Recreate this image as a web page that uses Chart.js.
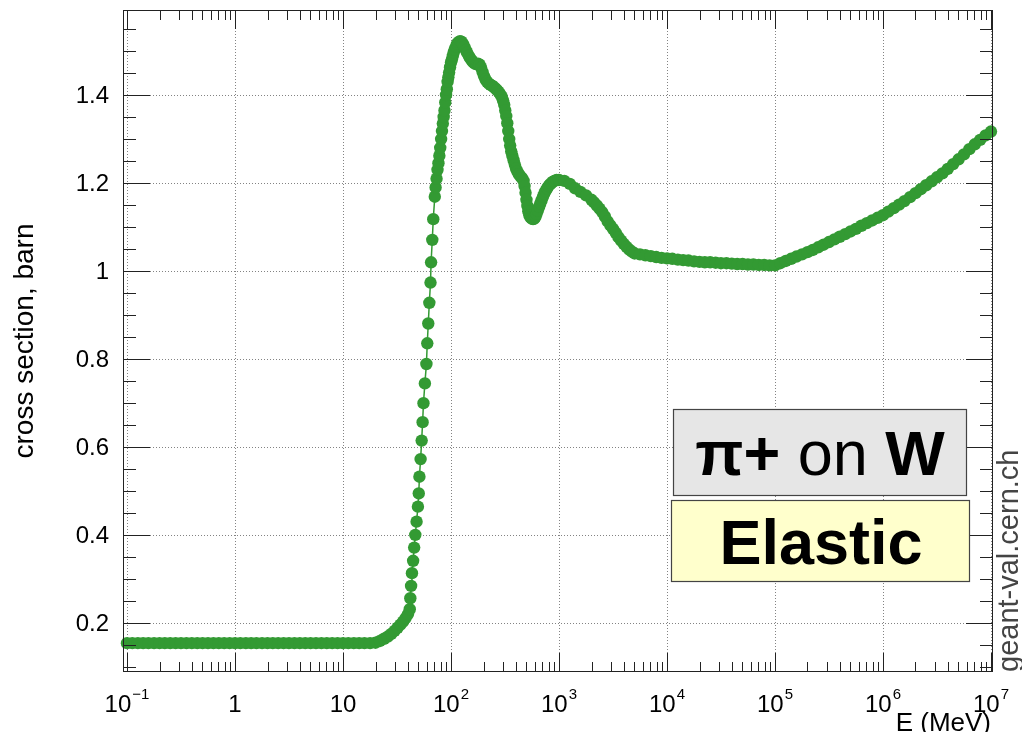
<!DOCTYPE html>
<html><head><meta charset="utf-8">
<script src="https://cdn.jsdelivr.net/npm/chart.js@4"></script>
<style>html,body{margin:0;padding:0;background:#fff;}canvas{display:block;}</style>
</head><body>
<canvas id="c" width="1022" height="732"></canvas>
<script>
// ---- data ----
const energyMeV = [
  0.1,0.112,0.126,0.141,0.158,0.178,0.2,0.224,0.251,0.282,0.316,0.355,0.398,0.447,0.501,0.562,0.631,0.708,0.794,0.891,
  1,1.12,1.26,1.41,1.58,1.78,2,2.24,2.51,2.82,3.16,3.55,3.98,4.47,5.01,5.62,6.31,7.08,7.94,8.91,
  10,11.2,12.6,14.1,15.8,17.8,
  20,22,24,26,28,30,32,34,36,38,40,41.5,
  42.0,42.7,43.5,44.6,45.6,46.7,48.0,49.4,50.3,51.0,52.3,53.5,54.6,55.6,57.3,59.2,60.3,61.6,63.0,64.6,65.4,67.1,68.5,70.8,
  72,73.5,75,76.5,78,79.5,81,82.5,84,85.5,
  87,88.5,90,91.5,93,94.5,96,98,100,102,
  104,106,108,111,114,117,121,125,129,133,
  137,141,146,151,156,161,166,172,178,184,
  190,196,202,209,216,224,232,240,249,258,
  267,276,285,295,303,311,318,325,332,339,
  346,353,361,370,380,390,400,412,425,440,
  455,470,480,490,500,510,520,532,545,560,
  575,590,605,620,637,655,672,690,710,730,
  752,775,800,825,850,880,910,950,
  1e3,1.12e3,1.26e3,1.41e3,1.58e3,1.78e3,2e3,2.11e3,2.24e3,2.37e3,
  2.51e3,2.66e3,2.82e3,2.99e3,3.16e3,3.35e3,3.55e3,3.76e3,3.98e3,4.22e3,
  4.47e3,4.73e3,5.01e3,5.62e3,6.31e3,7.08e3,7.94e3,8.91e3,
  1e4,1.12e4,1.26e4,1.41e4,1.58e4,1.78e4,2e4,2.24e4,2.51e4,2.82e4,3.16e4,3.55e4,3.98e4,4.47e4,5.01e4,5.62e4,6.31e4,7.08e4,7.94e4,8.91e4,
  1e5,1.12e5,1.26e5,1.41e5,1.58e5,1.78e5,2e5,2.24e5,2.51e5,2.82e5,3.16e5,3.55e5,3.98e5,4.47e5,5.01e5,5.62e5,6.31e5,7.08e5,7.94e5,8.91e5,
  1e6,1.12e6,1.26e6,1.41e6,1.58e6,1.78e6,2e6,2.24e6,2.51e6,2.82e6,3.16e6,3.55e6,3.98e6,4.47e6,5.01e6,5.62e6,6.31e6,7.08e6,7.94e6,8.91e6,
  1e7
];
const crossSectionBarn = [
  0.155,0.155,0.155,0.155,0.155,0.155,0.155,0.155,0.155,0.155,0.155,0.155,0.155,0.155,0.155,0.155,0.155,0.155,0.155,0.155,
  0.155,0.155,0.155,0.155,0.155,0.155,0.155,0.155,0.155,0.155,0.155,0.155,0.155,0.155,0.155,0.155,0.155,0.155,0.155,0.155,
  0.155,0.155,0.155,0.155,0.155,0.155,
  0.156,0.160,0.165,0.170,0.176,0.183,0.190,0.197,0.204,0.212,0.221,0.232,
  0.257,0.285,0.314,0.342,0.372,0.401,0.431,0.465,0.495,0.533,0.573,0.615,0.657,0.700,0.745,0.789,0.836,0.881,0.928,0.974,1.020,1.071,1.118,1.169,
  1.19,1.21,1.23,1.245,1.262,1.28,1.30,1.318,1.335,1.35,
  1.365,1.383,1.40,1.413,1.43,1.44,1.451,1.463,1.474,1.481,
  1.489,1.497,1.503,1.51,1.516,1.52,1.522,1.521,1.516,1.509,
  1.502,1.496,1.489,1.483,1.478,1.474,1.471,1.470,1.471,1.469,
  1.462,1.452,1.443,1.435,1.43,1.426,1.423,1.421,1.418,1.415,
  1.411,1.407,1.402,1.396,1.388,1.378,1.365,1.352,1.336,1.318,
  1.30,1.285,1.272,1.262,1.252,1.242,1.233,1.226,1.22,1.215,
  1.211,1.205,1.193,1.178,1.162,1.148,1.136,1.127,1.122,1.119,
  1.118,1.119,1.123,1.13,1.138,1.146,1.154,1.161,1.169,1.176,
  1.182,1.188,1.193,1.197,1.200,1.203,1.205,1.207,
  1.207,1.205,1.198,1.188,1.180,1.172,1.162,1.156,1.149,1.142,
  1.134,1.124,1.113,1.104,1.096,1.087,1.077,1.069,1.062,1.055,
  1.049,1.044,1.040,1.038,1.036,1.034,1.032,1.030,
  1.029,1.028,1.026,1.025,1.024,1.022,1.021,1.020,1.020,1.019,1.018,1.018,1.017,1.016,1.016,1.015,1.015,1.014,1.014,1.013,
  1.013,1.018,1.023,1.028,1.033,1.038,1.043,1.048,1.054,1.060,1.066,1.072,1.078,1.084,1.090,1.096,1.103,1.109,1.115,1.121,
  1.127,1.135,1.143,1.151,1.159,1.168,1.177,1.186,1.195,1.204,1.213,1.222,1.232,1.243,1.254,1.265,1.277,1.288,1.298,1.308,
  1.317
];
const xTickValues = [0.1,1,10,100,1e3,1e4,1e5,1e6,1e7];
const xTickBase   = ["10","1","10","10","10","10","10","10","10"];
const xTickExp    = ["\u22121","","","2","3","4","5","6","7"];
const yTickValues = [0.2,0.4,0.6,0.8,1.0,1.2,1.4];
const yTickLabels = ["0.2","0.4","0.6","0.8","1","1.2","1.4"];
const xTitle = "E (MeV)";
const yTitle = "cross section, barn";
const projectileText = ["\u03c0+", " on ", "W"];
const processText = "Elastic";
const watermark = "geant-val.cern.ch";

const GREEN = "#339a33";
const FONT = '"Liberation Sans", Arial, sans-serif';

const rootPlugin = {
  id: 'rootStyle',
  beforeDatasetsDraw(chart) {
    const {ctx, chartArea: a, scales: {x, y}} = chart;
    ctx.save();
    ctx.strokeStyle = "rgba(90,90,90,0.75)";
    ctx.lineWidth = 1;
    ctx.setLineDash([1, 2]);
    xTickValues.forEach(v => {
      const px = Math.round(x.getPixelForValue(v)) + 0.5;
      ctx.beginPath(); ctx.moveTo(px, a.top); ctx.lineTo(px, a.bottom); ctx.stroke();
    });
    yTickValues.forEach(v => {
      const py = Math.round(y.getPixelForValue(v)) + 0.5;
      ctx.beginPath(); ctx.moveTo(a.left, py); ctx.lineTo(a.right, py); ctx.stroke();
    });
    ctx.restore();
  },
  afterDatasetsDraw(chart) {
    const {ctx, chartArea: a, scales: {x, y}} = chart;
    ctx.save();
    // frame
    ctx.strokeStyle = "#222";
    ctx.lineWidth = 1;
    ctx.strokeRect(a.left + 0.5, a.top + 0.5, a.right - a.left - 1, a.bottom - a.top - 1);
    // x ticks
    ctx.beginPath();
    for (let d = -1; d <= 7; d++) {
      for (let k = 1; k <= 9; k++) {
        const v = k * Math.pow(10, d);
        if (v < x.min || v > x.max) continue;
        const px = Math.round(x.getPixelForValue(v)) + 0.5;
        const len = (k === 1) ? 19 : 10;
        ctx.moveTo(px, a.bottom); ctx.lineTo(px, a.bottom - len);
        ctx.moveTo(px, a.top); ctx.lineTo(px, a.top + len);
      }
    }
    // y ticks
    for (let i = 2; i <= 31; i++) {
      const v = i * 0.05;
      if (v < y.min || v > y.max) continue;
      const major = (i % 4 === 0);
      const len = major ? 27 : 13;
      const py = Math.round(y.getPixelForValue(v)) + 0.5;
      ctx.moveTo(a.left, py); ctx.lineTo(a.left + len, py);
      ctx.moveTo(a.right, py); ctx.lineTo(a.right - len, py);
    }
    ctx.stroke();

    // y tick labels
    ctx.fillStyle = "#000";
    ctx.font = "24px " + FONT;
    ctx.textAlign = "right";
    ctx.textBaseline = "middle";
    yTickValues.forEach((v, i) => {
      ctx.fillText(yTickLabels[i], 109, y.getPixelForValue(v) + 1);
    });
    // x tick labels
    ctx.textBaseline = "alphabetic";
    ctx.textAlign = "left";
    xTickValues.forEach((v, i) => {
      const px = x.getPixelForValue(v);
      ctx.font = "24px " + FONT;
      const wb = ctx.measureText(xTickBase[i]).width;
      ctx.font = "15px " + FONT;
      const we = xTickExp[i] ? ctx.measureText(xTickExp[i]).width + 1 : 0;
      const sx = px - (wb + we) / 2;
      ctx.font = "24px " + FONT;
      ctx.fillText(xTickBase[i], sx, 712);
      if (xTickExp[i]) {
        ctx.font = "15px " + FONT;
        ctx.fillText(xTickExp[i], sx + wb + 1, 699);
      }
    });
    // x title
    ctx.font = "26px " + FONT;
    ctx.textAlign = "right";
    ctx.fillText(xTitle, 991, 731);
    // y title
    ctx.save();
    ctx.translate(33, (a.top + a.bottom) / 2);
    ctx.rotate(-Math.PI / 2);
    ctx.textAlign = "center";
    ctx.font = "28px " + FONT;
    ctx.fillText(yTitle, 0, 0);
    ctx.restore();
    // watermark
    ctx.save();
    ctx.translate(1018, 672);
    ctx.rotate(-Math.PI / 2);
    ctx.textAlign = "left";
    ctx.fillStyle = "#444";
    ctx.font = "29px " + FONT;
    ctx.fillText(watermark, 0, 0);
    ctx.restore();

    // box 1
    ctx.fillStyle = "#e6e6e6";
    ctx.fillRect(673, 409, 294, 87);
    ctx.strokeStyle = "#444";
    ctx.lineWidth = 1.2;
    ctx.strokeRect(673.5, 409.5, 293, 86);
    const fonts = ["bold 63px " + FONT, "63px " + FONT, "bold 63px " + FONT];
    let tw = 0;
    const ws = projectileText.map((t, i) => { ctx.font = fonts[i]; const w = ctx.measureText(t).width; tw += w; return w; });
    let cx = 820 - tw / 2;
    ctx.fillStyle = "#000";
    ctx.textAlign = "left";
    projectileText.forEach((t, i) => { ctx.font = fonts[i]; ctx.fillText(t, cx, 475); cx += ws[i]; });
    // box 2
    ctx.fillStyle = "#ffffcc";
    ctx.fillRect(671, 500, 299, 82);
    ctx.strokeRect(671.5, 500.5, 298, 81);
    ctx.fillStyle = "#000";
    ctx.font = "bold 63px " + FONT;
    ctx.textAlign = "center";
    ctx.fillText(processText, 821, 564);
    ctx.restore();
  }
};

const points = energyMeV.map((e, i) => ({x: e, y: crossSectionBarn[i]}));

new Chart(document.getElementById('c').getContext('2d'), {
  type: 'line',
  data: { datasets: [{
    data: points,
    borderColor: GREEN,
    backgroundColor: GREEN,
    pointBackgroundColor: GREEN,
    pointBorderColor: GREEN,
    pointBorderWidth: 0,
    pointRadius: 6.2,
    borderWidth: 1.5,
    tension: 0,
    clip: false
  }]},
  options: {
    responsive: false,
    animation: false,
    devicePixelRatio: 1,
    events: [],
    layout: { padding: { left: 123, right: 29, top: 10, bottom: 60 } },
    plugins: { legend: { display: false }, tooltip: { enabled: false } },
    scales: {
      x: { type: 'logarithmic', min: 0.0918, max: 1.044e7, display: false },
      y: { type: 'linear', min: 0.0895, max: 1.593, display: false }
    }
  },
  plugins: [rootPlugin]
});
</script>
</body></html>
